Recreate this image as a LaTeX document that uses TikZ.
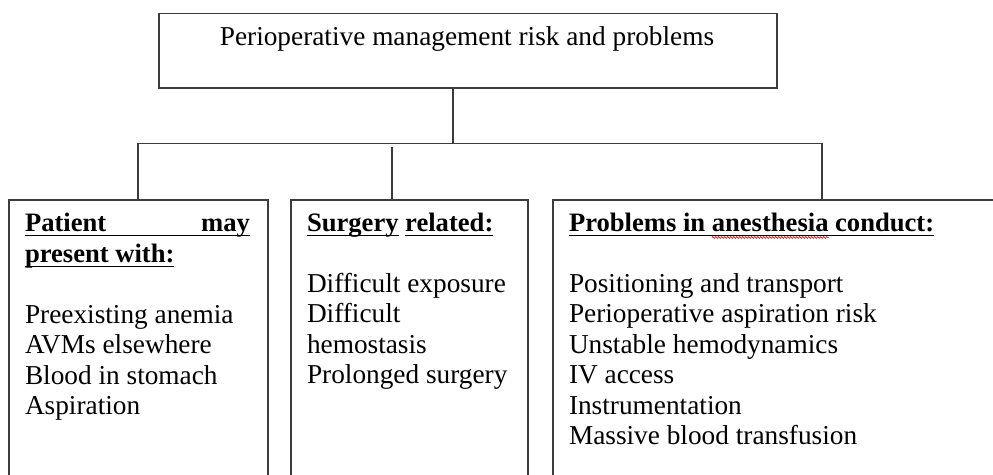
\documentclass[tikz,border=0pt]{standalone}
\usepackage{fontspec}
\setmainfont{Liberation Serif}
\usetikzlibrary{decorations.pathmorphing}
\definecolor{linec}{HTML}{3C3C3C}
\begin{document}
\begin{tikzpicture}[x=1pt,y=-1pt,
  frame/.style={draw=linec,line width=1.3pt,inner sep=0pt},
  conn/.style={draw=linec,line width=1.3pt},
  txt/.style={inner sep=0pt,outer sep=0pt,font=\fontsize{27.3}{30.5}\selectfont},
  hd/.style={txt,font=\fontsize{26.6}{30.5}\selectfont\bfseries},
  ul/.style={draw=black,line width=1.7pt},
  wavy/.style={draw=red!85!black,line width=0.6pt,decorate,decoration={snake,amplitude=0.9pt,segment length=3pt}}]
\useasboundingbox (0,0) rectangle (993,474);
\clip (0,0) rectangle (993,474);
\fill[white] (0,0) rectangle (993,474);
% top box
\node[frame,minimum width=618pt,minimum height=74.3pt] (top) at (468,50.85) {};
\node[txt,anchor=base] (title) at (467,45) {Perioperative management risk and problems};
% boxes
\node[frame,minimum width=259pt,minimum height=320pt] (b1) at (138.5,360) {};
\node[frame,minimum width=237pt,minimum height=320pt] (b2) at (409.5,360) {};
\node[frame,minimum width=460pt,minimum height=320pt] (b3) at (783,360) {};
% connectors
\coordinate (bus) at (453,143.5);
\coordinate (j1) at (138,143.5);
\coordinate (j2) at (392,147);
\coordinate (j3) at (822,143.5);
\draw[conn] (top.south -| bus) -- (bus);
\draw[conn] (j1 |- b1.north) -- (j1) -- (j3) -- (j3 |- b3.north);
\draw[conn] (j2) -- (j2 |- b2.north);
% box 1
\node[hd,anchor=base west] (h1a) at (25,231) {Patient};
\node[hd,anchor=base east] (h1b) at (250,231) {may};
\node[hd,anchor=base west] (h1c) at (25,262) {present with:};
\draw[ul] ([yshift=-4.5pt]h1a.base west) -- ([yshift=-4.5pt]h1b.base east);
\draw[ul] ([yshift=-4.5pt]h1c.base west) -- ([yshift=-4.5pt]h1c.base east);
\foreach \t [count=\i] in {Preexisting anemia,AVMs elsewhere,Blood in stomach,Aspiration}
  \node[txt,anchor=base west] (p\i) at (25,{323+30.5*(\i-1)}) {\t};
% box 2
\node[hd,anchor=base west] (h2a) at (307,231) {Surgery};
\node[hd,anchor=base west] (h2b) at ([xshift=6.6pt]h2a.base east) {related:};
\draw[ul] ([yshift=-4.5pt]h2a.base west) -- ([yshift=-4.5pt]h2a.base east);
\draw[ul] ([yshift=-4.5pt]h2b.base west) -- ([yshift=-4.5pt]h2b.base east);
\foreach \t [count=\i] in {Difficult exposure,Difficult,hemostasis,Prolonged surgery}
  \node[txt,anchor=base west] (s\i) at (307,{292+30.5*(\i-1)}) {\t};
% box 3
\node[hd,anchor=base west] (h3a) at (569,231) {Problems in};
\node[hd,anchor=base west] (h3b) at ([xshift=6.6pt]h3a.base east) {anesthesia};
\node[hd,anchor=base west] (h3c) at ([xshift=6.6pt]h3b.base east) {conduct:};
\draw[ul] ([yshift=-4.5pt]h3a.base west) -- ([yshift=-4.5pt]h3c.base east);
\draw[wavy] ([yshift=-6.5pt]h3b.base west) -- ([yshift=-6.5pt]h3b.base east);
\foreach \t [count=\i] in {Positioning and transport,Perioperative aspiration risk,Unstable hemodynamics,IV access,Instrumentation,Massive blood transfusion}
  \node[txt,anchor=base west] (c\i) at (569,{292+30.5*(\i-1)}) {\t};
\end{tikzpicture}
\end{document}
